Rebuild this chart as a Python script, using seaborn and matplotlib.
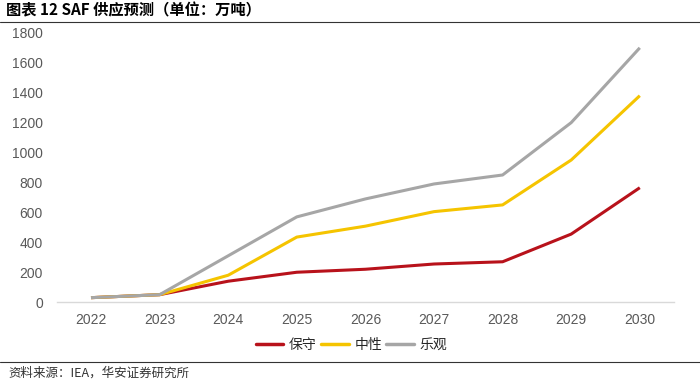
import matplotlib
matplotlib.use("Agg")
import matplotlib.pyplot as plt
import seaborn as sns
import pandas as pd
from matplotlib.lines import Line2D

years = ["2022", "2023", "2024", "2025", "2026", "2027", "2028", "2029", "2030"]
conservative = [30, 50, 140, 200, 220, 255, 270, 455, 765]
neutral = [30, 50, 180, 435, 508, 605, 650, 950, 1380]
optimistic = [30, 50, 310, 570, 690, 790, 850, 1200, 1700]
series_names = ["保守", "中性", "乐观"]
colors = ["#B8121B", "#F5C400", "#A6A6A6"]
yticks = [0, 200, 400, 600, 800, 1000, 1200, 1400, 1600, 1800]

sns.set_theme(style="white")
plt.rcParams['font.family'] = ['Liberation Sans', 'Noto Sans CJK SC', 'DejaVu Sans']

df = pd.DataFrame({
    "year": years * 3,
    "value": conservative + neutral + optimistic,
    "series": [series_names[0]] * 9 + [series_names[1]] * 9 + [series_names[2]] * 9,
})
df["x"] = df["year"].map({y: i for i, y in enumerate(years)})

fig = plt.figure(figsize=(7, 3.82), dpi=100)
ax = fig.add_axes([0.081, 0.209, 0.882, 0.705])

for name, col in zip(series_names, colors):
    sub = df[df["series"] == name]
    sns.lineplot(data=sub, x="x", y="value", color=col, linewidth=2.2, ax=ax,
                 legend=False, solid_capstyle="butt")

ax.set_xlim(-0.5, 8.5)
ax.set_ylim(0, 1800)
ax.set_xticks(range(len(years)))
ax.set_xticklabels(years)
ax.set_yticks(yticks)
ax.set_xlabel("")
ax.set_ylabel("")
for s in ["top", "right", "left"]:
    ax.spines[s].set_visible(False)
ax.spines["bottom"].set_color("#D9D9D9")
ax.spines["bottom"].set_linewidth(1)
ax.tick_params(axis="both", length=0, labelsize=10, colors="#595959", pad=8)
ax.tick_params(axis="y", pad=10)

handles = [Line2D([0], [0], color=c, linewidth=2.5) for c in colors]
fig.legend(handles, series_names, loc="center", bbox_to_anchor=(0.502, 0.097),
           ncol=3, frameon=False, handlelength=2.0,
           columnspacing=0.3, handletextpad=0.4,
           prop={"family": ["Noto Sans CJK SC"], "size": 10})

fig.text(0.008, 0.972, "图表 12 SAF 供应预测（单位：万吨）", fontsize=11, fontweight="bold",
         family=["Noto Sans CJK SC", "DejaVu Sans"], va="center", ha="left", color="#000000")
fig.add_artist(Line2D([0.0, 1.0], [0.942, 0.942], color="#333333", linewidth=0.8,
                      transform=fig.transFigure))
fig.add_artist(Line2D([0.0, 1.0], [0.052, 0.052], color="#333333", linewidth=0.8,
                      transform=fig.transFigure))
fig.text(0.012, 0.024, "资料来源：IEA，华安证券研究所", fontsize=9,
         family=["Noto Sans CJK SC", "DejaVu Sans"], va="center", ha="left", color="#333333")

fig.savefig("out.png", dpi=100, facecolor="white")
